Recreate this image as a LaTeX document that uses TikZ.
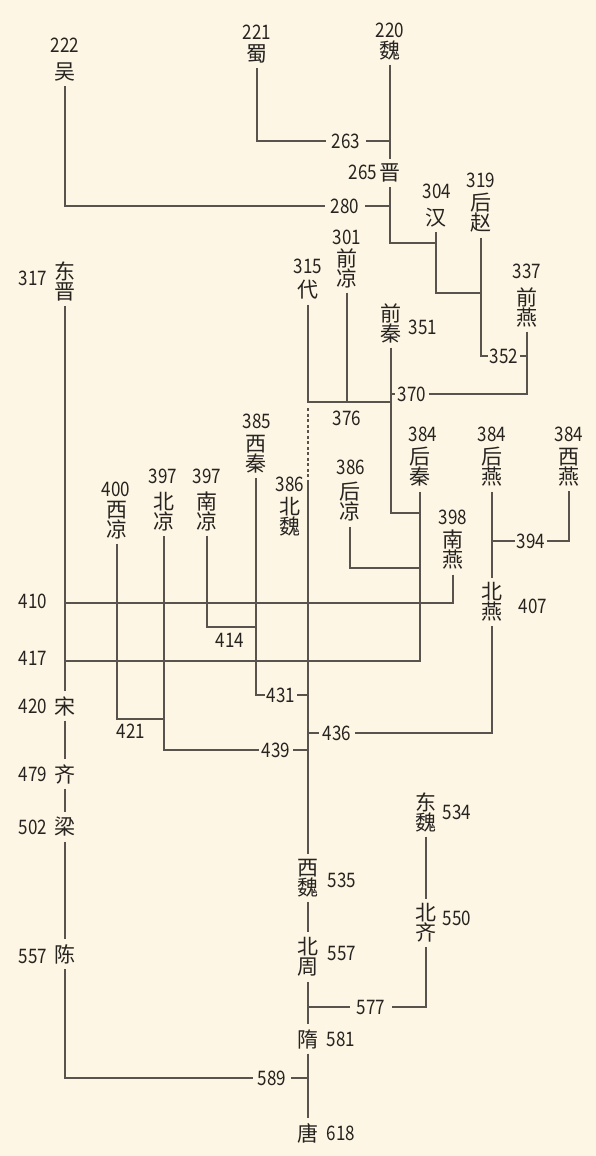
\documentclass[tikz,border=0pt]{standalone}
\usepackage{fontspec}
\newfontfamily\cjk{Noto Sans CJK SC}
\newfontfamily\nianfont{Noto Sans CJK SC}[FakeStretch=0.85]
\definecolor{beijing}{HTML}{FDF6E4}
\definecolor{xianse}{HTML}{58534C}
\definecolor{mo}{HTML}{262320}

\begin{document}
\begin{tikzpicture}[x=1pt,y=-1pt,
    guo/.style={font=\cjk\fontsize{21}{20}\selectfont, align=center, text=mo, inner sep=0pt, outer sep=5pt},
    nian/.style={font=\nianfont\fontsize{20}{20}\selectfont, text=mo, inner sep=0pt, outer xsep=6pt, outer ysep=4pt},
    xian/.style={draw=xianse, line width=1.1pt}]
    \useasboundingbox[fill=beijing] (0,0) rectangle (596,1156);

    % 三国、西晋
    \node[nian] (n222) at (65,45) {222};
    \node[guo]  (wu)   at (65,72) {吴};
    \node[nian] (n221) at (257,32) {221};
    \node[guo]  (shu)  at (257,54) {蜀};
    \node[nian] (n220) at (390,30) {220};
    \node[guo]  (wei)  at (390,50) {魏};
    \node[nian] (n263) at (346,141) {263};
    \node[nian] (n265) at (363,172) {265};
    \node[guo]  (jin)  at (390,173) {晋};
    \node[nian] (n280) at (345,206) {280};

    % 十六国
    \node[nian] (n304)   at (437,191) {304};
    \node[guo]  (han)    at (436,218) {汉};
    \node[nian] (n319)   at (481,180) {319};
    \node[guo]  (hzhao)  at (481,213) {后\\赵};
    \node[nian] (n337)   at (527,271) {337};
    \node[guo]  (qyan)   at (527,307) {前\\燕};
    \node[nian] (n301)   at (347,237) {301};
    \node[guo]  (qliang) at (347,268) {前\\凉};
    \node[nian] (n315)   at (308,266) {315};
    \node[guo]  (dai)    at (308,290) {代};
    \node[nian] (n317)   at (33,278) {317};
    \node[guo]  (djin)   at (65,281) {东\\晋};
    \node[guo]  (qqin)   at (391,323) {前\\秦};
    \node[nian] (n351)   at (423,327) {351};
    \node[nian, outer xsep=2pt] (n352) at (504,356) {352};
    \node[nian, outer xsep=3pt] (n370) at (412,394) {370};
    \node[nian] (n376)   at (347,418) {376};

    \node[nian] (n385)   at (257,421) {385};
    \node[guo]  (xqin)   at (256,454) {西\\秦};
    \node[nian] (n386a)  at (290,484) {386};
    \node[guo]  (bwei)   at (290,517) {北\\魏};
    \node[nian] (n397a)  at (207,476) {397};
    \node[guo]  (nliang) at (207,511) {南\\凉};
    \node[nian] (n397b)  at (163,476) {397};
    \node[guo]  (bliang) at (164,512) {北\\凉};
    \node[nian] (n400)   at (116,489) {400};
    \node[guo]  (xliang) at (117,520) {西\\凉};
    \node[nian] (n384a)  at (423,434) {384};
    \node[guo]  (hqin)   at (420,467) {后\\秦};
    \node[nian] (n386b)  at (351,467) {386};
    \node[guo]  (hliang) at (350,502) {后\\凉};
    \node[nian] (n398)   at (453,517) {398};
    \node[guo]  (nyan)   at (453,550) {南\\燕};
    \node[nian] (n384b)  at (492,434) {384};
    \node[guo]  (hyan)   at (492,467) {后\\燕};
    \node[nian] (n384c)  at (569,434) {384};
    \node[guo]  (xyan)   at (569,467) {西\\燕};
    \node[nian, outer xsep=2pt] (n394) at (531,541) {394};
    \node[guo]  (byan)   at (492,602) {北\\燕};
    \node[nian] (n407)   at (533,606) {407};

    % 南北朝
    \node[nian] (n410)  at (33,601) {410};
    \node[nian] (n417)  at (33,658) {417};
    \node[nian] (n420)  at (33,706) {420};
    \node[guo]  (song)  at (65,706) {宋};
    \node[nian] (n479)  at (33,774) {479};
    \node[guo]  (qi)    at (65,774) {齐};
    \node[nian] (n502)  at (33,827) {502};
    \node[guo]  (liang) at (65,827) {梁};
    \node[nian] (n557a) at (33,956) {557};
    \node[guo]  (chen)  at (65,954) {陈};
    \node[nian] (n414)  at (230,640) {414};
    \node[nian, outer xsep=2pt] (n431) at (281,695) {431};
    \node[nian] (n421)  at (131,731) {421};
    \node[nian, outer xsep=3pt] (n439) at (276,750) {439};
    \node[nian, outer xsep=4pt] (n436) at (337,733) {436};
    \node[guo]  (dwei)  at (426,812) {东\\魏};
    \node[nian] (n534)  at (457,812) {534};
    \node[guo]  (bqi)   at (426,923) {北\\齐};
    \node[nian] (n550)  at (457,918) {550};
    \node[guo]  (xwei)  at (308,878) {西\\魏};
    \node[nian] (n535)  at (342,880) {535};
    \node[guo]  (bzhou) at (308,957) {北\\周};
    \node[nian] (n557b) at (342,953) {557};
    \node[nian, outer xsep=7pt] (n577) at (371,1007) {577};
    \node[guo]  (sui)   at (308,1039) {隋};
    \node[nian] (n581)  at (341,1039) {581};
    \node[nian, outer xsep=5pt] (n589) at (272,1078) {589};
    \node[guo]  (tang)  at (308,1133) {唐};
    \node[nian] (n618)  at (341,1133) {618};

    % 北魏一线的起点
    \coordinate (dq) at (308,408);
    \coordinate (bw) at (308,480);

    % 连线
    \draw[xian] (wu.south) |- (n280.west);
    \draw[xian] (n280.east) -- (n280.east -| wei.south);
    \draw[xian] (shu.south) |- (n263.west);
    \draw[xian] (n263.east) -- (n263.east -| wei.south);
    \draw[xian] (wei.south) -- (jin.north);
    \draw[xian] (jin.south) |- (han.south |- 0,243);
    \draw[xian] (han.south) |- (hzhao.south |- 0,293);
    \draw[xian] (hzhao.south) |- (n352.west);
    \draw[xian] (n352.east) -- (n352.east -| qyan.south);
    \draw[xian] (qyan.south) |- (n370.east);
    \draw[xian] (n370.west) -- (n370.west -| qqin.south);
    \draw[xian] (qqin.south) |- (hqin.south |- 0,513);
    \draw[xian] (dai.south) |- (qqin.south |- 0,402);
    \draw[xian] (qliang.south) -- (qliang.south |- 0,402);
    \draw[xian, dash pattern=on 3pt off 2.5pt] (dq) -- (bw);

    \draw[xian] (xqin.south) |- (n431.west);
    \draw[xian] (n431.east) -- (n431.east -| bw);
    \draw[xian] (nliang.south) |- (xqin.south |- 0,627);
    \draw[xian] (bliang.south) |- (n439.west);
    \draw[xian] (n439.east) -- (n439.east -| bw);
    \draw[xian] (xliang.south) |- (bliang.south |- 0,719);
    \draw[xian] (hliang.south) |- (hqin.south |- 0,568);
    \draw[xian] (hqin.south) |- (djin.south |- 0,661);
    \draw[xian] (nyan.south) |- (djin.south |- 0,603);
    \draw[xian] (hyan.south) -- (byan.north);
    \draw[xian] (xyan.south) |- (n394.east);
    \draw[xian] (n394.west) -- (n394.west -| hyan.south);
    \draw[xian] (byan.south) |- (n436.east);
    \draw[xian] (n436.west) -- (n436.west -| bw);

    \draw[xian] (djin.south) -- (song.north);
    \draw[xian] (song.south) -- (qi.north);
    \draw[xian] (qi.south) -- (liang.north);
    \draw[xian] (liang.south) -- (chen.north);
    \draw[xian] (chen.south) |- (n589.west);
    \draw[xian] (n589.east) -- (n589.east -| tang.north);

    \draw[xian] (bw) -- (xwei.north);
    \draw[xian] (xwei.south) -- (bzhou.north);
    \draw[xian] (bzhou.south) -- (sui.north);
    \draw[xian] (sui.south) -- (tang.north);
    \draw[xian] (dwei.south) -- (bqi.north);
    \draw[xian] (bqi.south) |- (n577.east);
    \draw[xian] (n577.west) -- (n577.west -| sui.north);
\end{tikzpicture}
\end{document}
